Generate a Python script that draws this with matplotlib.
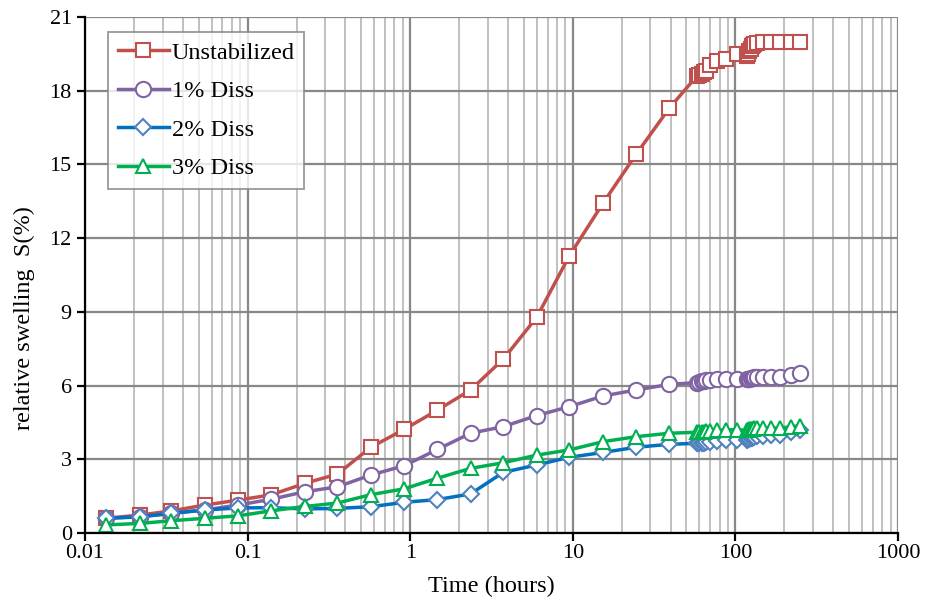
import matplotlib
matplotlib.use("Agg")
import matplotlib.pyplot as plt
from matplotlib.ticker import LogLocator, FixedLocator, NullFormatter, FixedFormatter

plt.rcParams['font.family'] = ['Liberation Serif', 'DejaVu Serif']

time_h = [0.0135, 0.0218, 0.034, 0.055, 0.0875, 0.139, 0.225, 0.357, 0.573, 0.92,
          1.47, 2.35, 3.74, 6.0, 9.5, 15.4, 24.5, 39.3,
          58, 60, 62, 64, 66, 70, 77, 88, 102,
          118, 120, 122, 124, 126, 128, 131, 135,
          148, 165, 187, 220, 250]

unstabilized = [0.60, 0.73, 0.90, 1.14, 1.34, 1.55, 2.02, 2.40, 3.49, 4.22,
                5.00, 5.82, 7.08, 8.78, 11.27, 13.44, 15.41, 17.30,
                18.60, 18.65, 18.70, 18.75, 18.80, 19.05, 19.20, 19.30, 19.50,
                19.40, 19.50, 19.60, 19.70, 19.80, 19.85, 19.90, 19.95,
                20.00, 20.00, 20.00, 20.00, 20.00]

diss1 = [0.60, 0.66, 0.80, 0.94, 1.14, 1.37, 1.68, 1.88, 2.36, 2.74,
         3.40, 4.06, 4.33, 4.78, 5.14, 5.58, 5.82, 6.05,
         6.12, 6.15, 6.18, 6.20, 6.22, 6.23, 6.25, 6.27, 6.28,
         6.25, 6.27, 6.28, 6.30, 6.30, 6.32, 6.33, 6.34,
         6.35, 6.36, 6.34, 6.43, 6.50]

diss2 = [0.60, 0.66, 0.80, 0.94, 1.02, 1.03, 0.98, 1.00, 1.07, 1.25,
         1.36, 1.59, 2.47, 2.77, 3.08, 3.28, 3.49, 3.61,
         3.65, 3.66, 3.67, 3.68, 3.70, 3.72, 3.75, 3.78, 3.80,
         3.80, 3.82, 3.84, 3.86, 3.88, 3.90, 3.92, 3.94,
         3.95, 3.97, 4.00, 4.10, 4.20]

diss3 = [0.33, 0.39, 0.50, 0.60, 0.70, 0.90, 1.08, 1.22, 1.56, 1.80,
         2.23, 2.63, 2.86, 3.17, 3.38, 3.72, 3.92, 4.06,
         4.10, 4.11, 4.12, 4.13, 4.14, 4.16, 4.18, 4.20, 4.20,
         4.18, 4.20, 4.22, 4.23, 4.24, 4.25, 4.26, 4.27,
         4.27, 4.28, 4.26, 4.33, 4.35]

series_names = ["Unstabilized", "1% Diss", "2% Diss", "3% Diss"]
x_tick_labels = ["0.01", "0.1", "1", "10", "100", "1000"]
y_ticks = [0, 3, 6, 9, 12, 15, 18, 21]

fig = plt.figure(figsize=(9.32, 6.06), dpi=100)
ax = fig.add_axes([85/932, 73/606, 813/932, 516/606])

styles = [
    dict(color='#C0504D', marker='s', mec='#C0504D', ms=10),
    dict(color='#8064A2', marker='o', mec='#8064A2', ms=11),
    dict(color='#0070C0', marker='D', mec='#4F81BD', ms=8),
    dict(color='#00B050', marker='^', mec='#00B050', ms=10.5),
]
for name, vals, st in zip(series_names, [unstabilized, diss1, diss2, diss3], styles):
    ax.plot(time_h, vals, label=name, lw=2.5, mfc='white', mew=1.5, **st)

ax.set_xscale('log')
ax.set_xlim(0.01, 1000)
ax.set_ylim(0, 21)
ax.xaxis.set_major_locator(FixedLocator([float(s) for s in x_tick_labels]))
ax.xaxis.set_major_formatter(FixedFormatter(x_tick_labels))
ax.xaxis.set_minor_locator(LogLocator(base=10, subs=range(2, 10), numticks=20))
ax.xaxis.set_minor_formatter(NullFormatter())
ax.set_yticks(y_ticks)

ax.grid(True, which='major', color='#888888', lw=1.6)
ax.grid(True, which='minor', axis='x', color='#c0c0c0', lw=1.4)
ax.set_axisbelow(True)

for s in ['top', 'right']:
    ax.spines[s].set_visible(False)
for s in ['left', 'bottom']:
    ax.spines[s].set_color('black')
    ax.spines[s].set_linewidth(1.6)
ax.tick_params(which='major', direction='out', length=6, width=1.6, labelsize=16, colors='black')
ax.tick_params(axis='x', pad=2)
ax.tick_params(which='minor', length=0)

ax.set_xlabel('Time (hours)', fontsize=17.5, labelpad=9)
ax.set_ylabel('relative swelling  S(%)', fontsize=17.5, labelpad=10)
ax.yaxis.set_label_coords(-0.062, 0.417)

leg = ax.legend(loc='upper left', bbox_to_anchor=(23/813, 1 - 15/516), borderaxespad=0,
                fontsize=17.5, frameon=True, fancybox=False, edgecolor='#888888',
                handlelength=2.1, handletextpad=0.12, labelspacing=0.68, borderpad=0.4)
leg.get_frame().set_linewidth(1.4)

fig.savefig('out.png', dpi=100)
